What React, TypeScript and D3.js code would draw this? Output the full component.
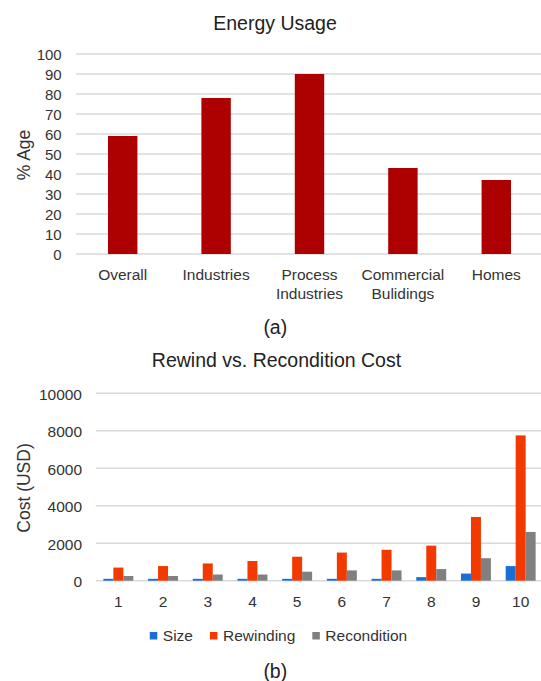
import React, { useEffect, useRef } from "react";
import * as d3 from "d3";

// Panel (a): energy usage share by sector
const sectors = ["Overall", "Industries", "Process\nIndustries", "Commercial\nBulidings", "Homes"];
const usagePct = [59, 78, 90, 43, 37];
const pctTicks = [0, 10, 20, 30, 40, 50, 60, 70, 80, 90, 100];

// Panel (b): rewind vs. recondition cost per motor size
const sizes = ["1", "2", "3", "4", "5", "6", "7", "8", "9", "10"];
const sizeCost = [100, 100, 100, 100, 100, 100, 100, 190, 380, 780];
const rewindingCost = [700, 780, 920, 1050, 1280, 1500, 1650, 1870, 3400, 7750];
const reconditionCost = [250, 250, 330, 330, 480, 550, 550, 620, 1200, 2600];
const costTicks = [0, 2000, 4000, 6000, 8000, 10000];
const seriesNames = ["Size", "Rewinding", "Recondition"];
const seriesColors = ["#1a6fd6", "#f23a00", "#808080"];

const W = 541;
const H = 681;
const FONT = "'Liberation Sans', Arial, Helvetica, sans-serif";
const GRID = "#d9d9d9";
const TXT = "#333";

export default function App() {
  const ref = useRef<SVGSVGElement | null>(null);

  useEffect(() => {
    const svg = d3.select(ref.current);
    svg.selectAll("*").remove();
    svg.attr("font-family", FONT);

    // ---------- Panel (a) ----------
    const a = svg.append("g");
    const xA = d3.scaleBand<string>().domain(sectors).range([76, 543]).paddingInner(0.685).paddingOuter(0.3425);
    const yA = d3.scaleLinear().domain([0, 100]).range([254, 54]);

    a.append("text").attr("x", 275).attr("y", 29.5).attr("text-anchor", "middle")
      .attr("font-size", 19.5).attr("fill", "#222").text("Energy Usage");

    a.selectAll("line.grid").data(pctTicks).join("line")
      .attr("x1", 76).attr("x2", 543)
      .attr("y1", (d) => yA(d)).attr("y2", (d) => yA(d))
      .attr("stroke", GRID).attr("stroke-width", 1.4);

    a.selectAll("text.tick").data(pctTicks).join("text")
      .attr("x", 61.7).attr("y", (d) => yA(d) + 6.3).attr("text-anchor", "end")
      .attr("font-size", 15).attr("fill", TXT).text((d) => String(d));

    a.append("text").attr("transform", "translate(29.5,155) rotate(-90)")
      .attr("text-anchor", "middle").attr("font-size", 17.5).attr("fill", TXT).text("% Age");

    a.selectAll("rect.bar").data(usagePct).join("rect")
      .attr("x", (_d, i) => xA(sectors[i])!)
      .attr("width", xA.bandwidth())
      .attr("y", (d) => yA(d))
      .attr("height", (d) => yA(0) - yA(d))
      .attr("fill", "#ad0000");

    sectors.forEach((s) => {
      const t = a.append("text").attr("text-anchor", "middle").attr("font-size", 15.5).attr("fill", TXT);
      s.split("\n").forEach((line, j) => {
        t.append("tspan").attr("x", xA(s)! + xA.bandwidth() / 2).attr("y", 280 + j * 18.5).text(line);
      });
    });

    a.append("text").attr("x", 275.3).attr("y", 333.5).attr("text-anchor", "middle")
      .attr("font-size", 19.5).attr("fill", "#222").text("(a)");

    // ---------- Panel (b) ----------
    const b = svg.append("g");
    const xB = d3.scaleBand<string>().domain(sizes).range([96, 543]).paddingInner(0.33).paddingOuter(0.165);
    const xS = d3.scaleBand<string>().domain(seriesNames).range([0, xB.bandwidth()]);
    const yB = d3.scaleLinear().domain([0, 10000]).range([580.7, 393.2]);

    b.append("text").attr("x", 276.5).attr("y", 367.3).attr("text-anchor", "middle")
      .attr("font-size", 19.5).attr("fill", "#222").text("Rewind vs. Recondition Cost");

    b.selectAll("line.grid").data(costTicks).join("line")
      .attr("x1", 96).attr("x2", 543)
      .attr("y1", (d) => yB(d)).attr("y2", (d) => yB(d))
      .attr("stroke", GRID).attr("stroke-width", 1.4);

    b.selectAll("text.tick").data(costTicks).join("text")
      .attr("x", 82).attr("y", (d) => yB(d) + 6.3).attr("text-anchor", "end")
      .attr("font-size", 15.5).attr("fill", TXT).text((d) => String(d));

    b.append("text").attr("transform", "translate(29.5,488) rotate(-90)")
      .attr("text-anchor", "middle").attr("font-size", 17.5).attr("fill", TXT).text("Cost (USD)");

    const series = [sizeCost, rewindingCost, reconditionCost];
    series.forEach((vals, si) => {
      b.append("g").selectAll("rect").data(vals).join("rect")
        .attr("x", (_d, i) => xB(sizes[i])! + xS(seriesNames[si])!)
        .attr("width", xS.bandwidth())
        .attr("y", (d) => yB(d))
        .attr("height", (d) => yB(0) - yB(d))
        .attr("fill", seriesColors[si]);
    });

    b.selectAll("text.xt").data(sizes).join("text")
      .attr("x", (d) => xB(d)! + xB.bandwidth() / 2).attr("y", 607)
      .attr("text-anchor", "middle").attr("font-size", 15.5).attr("fill", TXT).text((d) => d);

    // Legend, laid out from measured label widths and centred
    const lg = b.append("g");
    const sw = 7.5, gapIn = 5.5, gapOut = 17;
    let cx = 0;
    seriesNames.forEach((name, i) => {
      lg.append("rect").attr("x", cx).attr("y", 632).attr("width", sw).attr("height", sw).attr("fill", seriesColors[i]);
      const t = lg.append("text").attr("x", cx + sw + gapIn).attr("y", 641)
        .attr("font-size", 15.5).attr("fill", TXT).text(name);
      const w = (t.node() as SVGTextElement).getComputedTextLength();
      cx += sw + gapIn + w + gapOut;
    });
    const total = cx - gapOut;
    lg.attr("transform", `translate(${278.5 - total / 2},0)`);

    b.append("text").attr("x", 275.3).attr("y", 678).attr("text-anchor", "middle")
      .attr("font-size", 19.5).attr("fill", "#222").text("(b)");
  }, []);

  return (
    <svg
      ref={ref}
      width={W}
      height={H}
      viewBox={`0 0 ${W} ${H}`}
      style={{ position: "absolute", left: 0, top: 0, background: "#fff" }}
    />
  );
}
